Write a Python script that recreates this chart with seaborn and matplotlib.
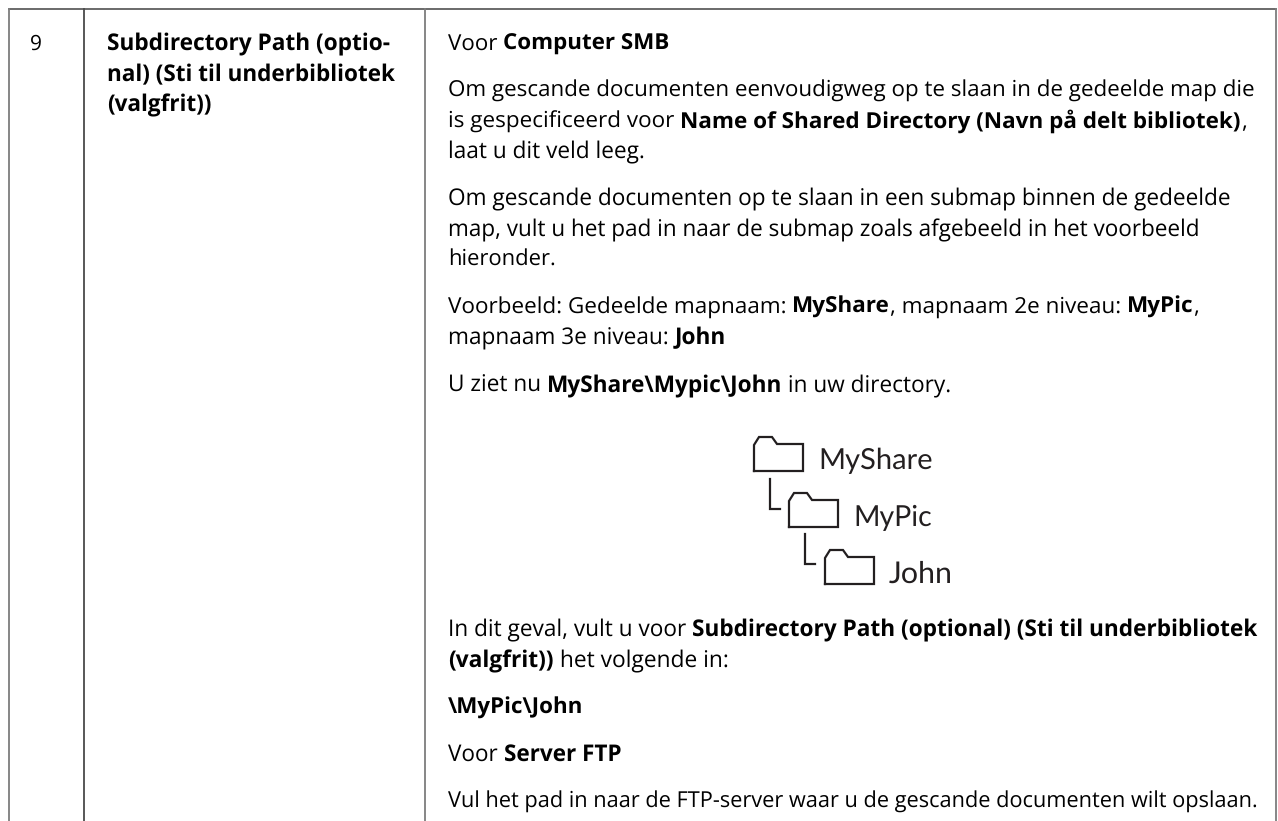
import seaborn as sns
import matplotlib.pyplot as plt

sns.set_theme(style="white")
plt.rcParams['font.family'] = ['Open Sans', 'Noto Sans', 'DejaVu Sans']
plt.rcParams['text.hinting'] = 'none'

# Table text: each line is a list of (text, bold) runs
row_number = "9"
left_lines = ["Subdirectory Path (optio-", "nal) (Sti til underbibliotek", "(valgfrit))"]
body_lines = [
    [("Voor ", False), ("Computer SMB", True)],
    [("Om gescande documenten eenvoudigweg op te slaan in de gedeelde map die", False)],
    [("is gespecificeerd voor ", False), ("Name of Shared Directory (Navn på delt bibliotek)", True), (",", False)],
    [("laat u dit veld leeg.", False)],
    [("Om gescande documenten op te slaan in een submap binnen de gedeelde", False)],
    [("map, vult u het pad in naar de submap zoals afgebeeld in het voorbeeld", False)],
    [("hieronder.", False)],
    [("Voorbeeld: Gedeelde mapnaam: ", False), ("MyShare", True), (", mapnaam 2e niveau: ", False), ("MyPic", True), (",", False)],
    [("mapnaam 3e niveau: ", False), ("John", True)],
    [("U ziet nu ", False), ("MyShare\\Mypic\\John", True), (" in uw directory.", False)],
    [("In dit geval, vult u voor ", False), ("Subdirectory Path (optional) (Sti til underbibliotek", True)],
    [("(valgfrit))", True), (" het volgende in:", False)],
    [("\\MyPic\\John", True)],
    [("Voor ", False), ("Server FTP", True)],
    [("Vul het pad in naar de FTP-server waar u de gescande documenten wilt opslaan.", False)],
]
folder_names = ["MyShare", "MyPic", "John"]

# Layout, in pixels
body_baselines = [50, 97, 128, 158, 205, 236, 266, 313, 344, 392, 636, 667, 714, 761, 808]
body_right = [670, 1258, 1247, 645, 1233, 1202, 556, 1201, 726, 953, 1259, 730, 584, 622, 1259]
left_baselines = [50, 81, 111]
left_right = [391, 396, 212]
folder_left = [754, 789, 825]
folder_top = [437, 493, 550]
folder_text_x = [818, 853, 889]
folder_text_base = [469, 526, 583]
folder_text_right = [933, 932, 953]
folder_shape_x = [0, 0, 5, 18, 23, 49, 49, 0]
folder_shape_y = [34, 8, 0, 0, 7, 7, 34, 34]
elbow_x = [[770, 770, 780], [805, 805, 815]]
elbow_y = [[479, 509, 509], [534, 564, 564]]
rule_x = [[9, 1276], [9, 9], [84, 84], [425, 425], [1276, 1276]]
rule_y = [[9, 9], [9, 821], [9, 821], [9, 821], [9, 821]]
rule_color = ["#5f5f5f", "#7d7d7d", "#4a4a4a", "#7d7d7d", "#7d7d7d"]

fig = plt.figure(figsize=(12.78, 8.21), dpi=100)
ax = fig.add_axes([0, 0, 1, 1])
ax.set_xlim(0, 1278)
ax.set_ylim(821, 0)
ax.axis("off")


def draw_path(xs, ys, color, width):
    sns.lineplot(x=xs, y=ys, estimator=None, sort=False, ax=ax, color=color, linewidth=width,
                 legend=False, solid_joinstyle="miter", solid_capstyle="projecting")


renderer = fig.canvas.get_renderer()


def run_width(text, bold, size, family):
    # x padding keeps the spaces at the ends of a run in the measure
    weight = "bold" if bold else "normal"
    pad = ax.text(0, 0, "xx", fontsize=size, fontweight=weight, family=family)
    full = ax.text(0, 0, "x" + text + "x", fontsize=size, fontweight=weight, family=family)
    w = full.get_window_extent(renderer).width - pad.get_window_extent(renderer).width
    pad.remove()
    full.remove()
    return w


def draw_line(runs, x, base, right, color="black", family="Open Sans"):
    size = 14.0
    total = sum(run_width(t, b, size, family) for t, b in runs)
    size = size * (right - x) / total
    for t, b in runs:
        ax.text(x, base, t, fontsize=size, fontweight="bold" if b else "normal",
                color=color, va="baseline", ha="left", family=family)
        x += run_width(t, b, size, family)


for xs, ys, c in zip(rule_x, rule_y, rule_color):
    draw_path(xs, ys, c, 1.3)

ax.text(30, 50, row_number, fontsize=15, color="black", va="baseline", ha="left")
for line, base, right in zip(left_lines, left_baselines, left_right):
    draw_line([(line, True)], 107, base, right)
for runs, base, right in zip(body_lines, body_baselines, body_right):
    draw_line(runs, 448, base, right)

# Folder tree
for name, fx, fy, tx, tb, tr in zip(folder_names, folder_left, folder_top, folder_text_x, folder_text_base, folder_text_right):
    draw_path([fx + v for v in folder_shape_x], [fy + v for v in folder_shape_y], "#231f20", 1.6)
    draw_line([(name, False)], tx, tb, tr, color="#231f20", family="Lato")
for xs, ys in zip(elbow_x, elbow_y):
    draw_path(xs, ys, "#231f20", 1.6)

fig.savefig("out.png", dpi=100)
